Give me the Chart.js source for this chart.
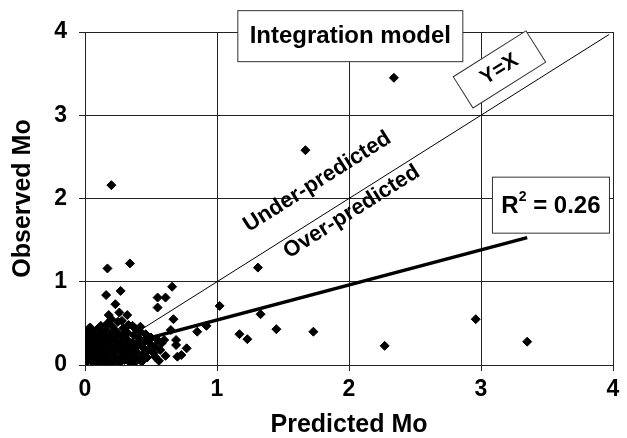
<!DOCTYPE html>
<html>
<head>
<meta charset="utf-8">
<script src="https://cdn.jsdelivr.net/npm/chart.js@4/dist/chart.umd.min.js"></script>
<style>
  html, body { margin: 0; padding: 0; background: #fff; }
  #box { width: 627px; height: 438px; }
</style>
</head>
<body>
<div id="box"><canvas id="grafico"></canvas></div>
<script>
// valores (Predicted Mo x Observed Mo)
const predito = [
  // nuvem perto da origem
  0.01, 0.02, 0.02, 0.03, 0.03, 0.04, 0.05, 0.05, 0.06, 0.06,
  0.07, 0.08, 0.08, 0.09, 0.09, 0.10, 0.11, 0.11, 0.12, 0.12,
  0.13, 0.14, 0.14, 0.15, 0.15, 0.16, 0.16, 0.17, 0.18, 0.18,
  0.19, 0.19, 0.20, 0.21, 0.22, 0.22, 0.23, 0.23, 0.24, 0.25,
  0.26, 0.26, 0.27, 0.27, 0.28, 0.29, 0.30, 0.30, 0.31, 0.32,
  0.32, 0.33, 0.34, 0.35, 0.35, 0.36, 0.37, 0.38, 0.39, 0.39,
  0.40, 0.41, 0.42, 0.43, 0.44, 0.44, 0.45, 0.46, 0.47, 0.48,
  0.49, 0.50, 0.52, 0.53, 0.55, 0.56, 0.57, 0.58, 0.04, 0.12,
  0.20, 0.28, 0.07, 0.00, 0.00, 0.01, 0.02, 0.03, 0.36, 0.42,
  0.03, 0.06, 0.09, 0.13, 0.17, 0.21, 0.25, 0.29, 0.33, 0.37,
  0.41, 0.05, 0.10, 0.14, 0.19, 0.24, 0.28, 0.33, 0.38, 0.43,
  0.07, 0.11, 0.16, 0.21, 0.25, 0.30, 0.34, 0.01, 0.00, 0.05,
  // pontos mais afastados
  0.17, 0.34, 0.20, 0.16, 0.27, 0.23, 0.18, 0.26, 0.32, 0.66,
  0.55, 0.61, 0.55, 0.67, 0.65, 0.60, 0.69, 0.77, 0.73, 0.70,
  0.61, 0.53, 0.69, 0.85, 0.92, 1.02, 1.31, 1.33, 1.17, 1.23,
  1.45, 1.73, 2.27, 2.96, 3.35, 1.67, 2.34
];
const observado = [
  0.03, 0.10, 0.18, 0.26, 0.34, 0.06, 0.14, 0.22, 0.30, 0.40,
  0.02, 0.09, 0.17, 0.25, 0.35, 0.44, 0.05, 0.13, 0.21, 0.29,
  0.38, 0.01, 0.09, 0.16, 0.24, 0.33, 0.42, 0.50, 0.04, 0.12,
  0.20, 0.28, 0.37, 0.46, 0.07, 0.15, 0.23, 0.31, 0.40, 0.52,
  0.02, 0.10, 0.18, 0.27, 0.35, 0.44, 0.06, 0.14, 0.22, 0.30,
  0.39, 0.48, 0.03, 0.11, 0.19, 0.27, 0.36, 0.44, 0.08, 0.16,
  0.24, 0.32, 0.40, 0.04, 0.13, 0.21, 0.29, 0.37, 0.09, 0.18,
  0.26, 0.33, 0.14, 0.22, 0.30, 0.05, 0.18, 0.26, 0.45, 0.47,
  0.55, 0.53, 0.37, 0.08, 0.20, 0.30, 0.38, 0.44, 0.47, 0.46,
  0.07, 0.03, 0.06, 0.05, 0.08, 0.03, 0.06, 0.09, 0.07, 0.02,
  0.07, 0.18, 0.21, 0.26, 0.15, 0.19, 0.23, 0.16, 0.21, 0.26,
  0.31, 0.34, 0.29, 0.33, 0.36, 0.35, 0.25, 0.14, 0.27, 0.36,
  1.16, 1.22, 2.16, 0.84, 0.89, 0.73, 0.60, 0.63, 0.60, 0.94,
  0.81, 0.81, 0.69, 0.55, 0.42, 0.30, 0.30, 0.20, 0.12, 0.10,
  0.11, 0.10, 0.24, 0.40, 0.47, 0.71, 1.17, 0.61, 0.37, 0.31,
  0.43, 0.40, 0.23, 0.55, 0.28, 2.58, 3.45
];

// linhas Y=X e regressão (R² = 0.26)
const linhaXY_x = [0, 3.97];
const linhaXY_y = [0, 3.97];
const ajuste_x = [0, 3.35];
const ajuste_y = [0.12, 1.53];

const ticks = [0, 1, 2, 3, 4];
const textoR2 = '0.26';

const pontos = predito.map((v, i) => ({ x: v, y: observado[i] }));
const xy = linhaXY_x.map((v, i) => ({ x: v, y: linhaXY_y[i] }));
const ajuste = ajuste_x.map((v, i) => ({ x: v, y: ajuste_y[i] }));

const FONTE = '"Liberation Sans", Arial, sans-serif';

// caixas de texto e rótulos inclinados
const anotacoes = {
  id: 'anotacoes',
  afterDatasetsDraw(chart) {
    const { ctx, scales: { x, y } } = chart;
    const ang = -Math.atan2(y.getPixelForValue(0) - y.getPixelForValue(4),
                            x.getPixelForValue(4) - x.getPixelForValue(0));

    function caixa(cx, cy, w, h, rot) {
      ctx.save();
      ctx.translate(x.getPixelForValue(cx), y.getPixelForValue(cy));
      ctx.rotate(rot);
      ctx.fillStyle = '#fff';
      ctx.strokeStyle = '#333';
      ctx.lineWidth = 1;
      ctx.fillRect(-w / 2, -h / 2, w, h);
      ctx.strokeRect(-w / 2, -h / 2, w, h);
      ctx.restore();
    }
    function texto(t, cx, cy, size, rot) {
      ctx.save();
      ctx.translate(x.getPixelForValue(cx), y.getPixelForValue(cy));
      ctx.rotate(rot);
      ctx.font = 'bold ' + size + 'px ' + FONTE;
      ctx.fillStyle = '#000';
      ctx.textAlign = 'center';
      ctx.textBaseline = 'middle';
      ctx.fillText(t, 0, 0);
      ctx.restore();
    }

    caixa(2.01, 3.95, 225, 51, 0);
    texto('Integration model', 2.01, 3.95, 24, 0);

    caixa(3.14, 3.55, 86, 37, ang);
    texto('Y=X', 3.14, 3.55, 21, ang);

    texto('Under-predicted', 1.76, 2.2, 22, ang);
    texto('Over-predicted', 2.02, 1.84, 22, ang);

    // R² com expoente
    caixa(3.53, 1.92, 117, 56, 0);
    ctx.save();
    const px = x.getPixelForValue(3.53), py = y.getPixelForValue(1.92);
    ctx.fillStyle = '#000';
    ctx.textBaseline = 'middle';
    ctx.font = 'bold 24px ' + FONTE;
    const a = ctx.measureText('R').width;
    const c = ctx.measureText(' = ' + textoR2).width;
    ctx.font = 'bold 14px ' + FONTE;
    const b = ctx.measureText('2').width;
    let sx = px - (a + b + c) / 2;
    ctx.font = 'bold 24px ' + FONTE;
    ctx.fillText('R', sx, py + 1);
    ctx.font = 'bold 14px ' + FONTE;
    ctx.fillText('2', sx + a, py - 8);
    ctx.font = 'bold 24px ' + FONTE;
    ctx.fillText(' = ' + textoR2, sx + a + b, py + 1);
    ctx.restore();
  }
};

const ctx = document.getElementById('grafico').getContext('2d');
const grafico = new Chart(ctx, {
  type: 'scatter',
  data: {
    datasets: [
      {
        label: 'Mo',
        data: pontos,
        pointStyle: 'rectRot',
        pointRadius: 4.5,
        pointBackgroundColor: '#000',
        pointBorderColor: '#000',
        pointBorderWidth: 1
      },
      {
        label: 'Regressão',
        data: ajuste,
        showLine: true,
        borderColor: '#000',
        borderWidth: 3.5,
        pointRadius: 0
      },
      {
        label: 'Y=X',
        data: xy,
        showLine: true,
        borderColor: '#000',
        borderWidth: 1,
        pointRadius: 0
      }
    ]
  },
  options: {
    responsive: true,
    maintainAspectRatio: false,
    animation: false,
    layout: { padding: { top: 32, right: 14, bottom: 0, left: 4 } },
    plugins: {
      legend: { display: false },
      tooltip: { enabled: false }
    },
    scales: {
      x: {
        type: 'linear',
        min: 0,
        max: 4,
        afterBuildTicks: s => { s.ticks = ticks.map(v => ({ value: v })); },
        afterFit: s => { s.height = 73; },
        grid: { color: '#222', lineWidth: 1, tickLength: 6 },
        border: { color: '#222' },
        ticks: { color: '#000', padding: 5, font: { family: FONTE, size: 23, weight: 'bold' } },
        title: {
          display: true,
          text: 'Predicted Mo',
          color: '#000',
          padding: { top: 0, bottom: -2 },
          font: { family: FONTE, size: 25, weight: 'bold' }
        }
      },
      y: {
        type: 'linear',
        min: 0,
        max: 4,
        afterBuildTicks: s => { s.ticks = ticks.map(v => ({ value: v })); },
        afterFit: s => { s.width = 81; },
        grid: { color: '#222', lineWidth: 1, tickLength: 6 },
        border: { color: '#222' },
        ticks: { color: '#000', padding: 12, font: { family: FONTE, size: 23, weight: 'bold' } },
        title: {
          display: true,
          text: 'Observed Mo',
          color: '#000',
          padding: { top: 4, bottom: 0 },
          font: { family: FONTE, size: 25, weight: 'bold' }
        }
      }
    }
  },
  plugins: [anotacoes]
});
</script>
</body>
</html>
